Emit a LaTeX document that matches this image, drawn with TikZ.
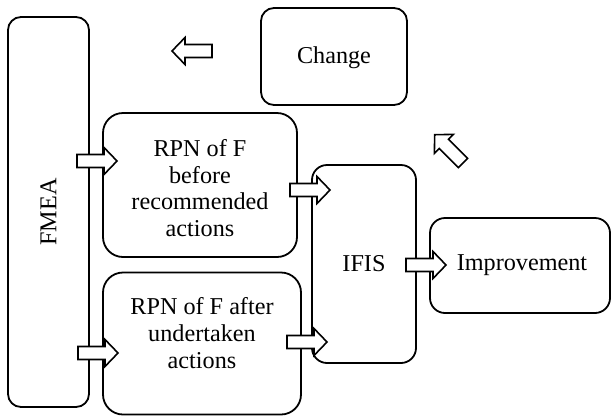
\documentclass[tikz,border=0pt]{standalone}
\usepackage{fontspec}
\setmainfont{Liberation Serif}
\tikzset{
  box/.style={draw, line width=1.8pt, rounded corners=15pt, inner sep=0pt},
  lbl/.style={font=\fontsize{24.2}{26.7}\selectfont, align=center, inner sep=0pt},
  barrowline/.style={draw, fill=white, line width=1.6pt, line join=miter},
  pics/barrow/.style={code={\draw[barrowline] (0,-6.5) -- (27,-6.5) -- (27,-13.5) -- (40,0) -- (27,13.5) -- (27,6.5) -- (0,6.5) -- cycle;}}
}
\begin{document}
\begin{tikzpicture}[x=1pt,y=-1pt]
\useasboundingbox (0,0) rectangle (611,416);
% boxes
\node[box, rounded corners=13pt, minimum width=81pt, minimum height=390pt] (fmea) at (48.5,212) {};
\node[box, rounded corners=20pt, minimum width=194pt, minimum height=144pt] (rpnb) at (200,185) {};
\node[box, rounded corners=20pt, minimum width=198pt, minimum height=142pt] (rpna) at (202,343.5) {};
\node[box, minimum width=104pt, minimum height=198pt] (ifis) at (364,264) {};
\node[box, minimum width=180pt, minimum height=95pt] (impr) at (520,265.5) {};
\node[box, rounded corners=13pt, minimum width=146pt, minimum height=97pt] (chg) at (334,56.5) {};
% labels
\node[lbl, rotate=90] (fmeat) at (fmea.center) {FMEA};
\node[lbl] (rpnbt) at (200,188) {RPN of F\\before\\recommended\\actions};
\node[lbl] (rpnat) at (202,333) {RPN of F after\\undertaken\\actions};
\node[lbl] (ifist) at (ifis.center) {IFIS};
\node[lbl] (imprt) at (522,265) {Improvement};
\node[lbl] (chgt) at (334,58) {Change};
% block arrows
\coordinate (a1) at (77,161);
\coordinate (a2) at (78,353);
\coordinate (a3) at (290,190);
\coordinate (a4) at (287,342);
\coordinate (a5) at (406,265);
\coordinate (a6) at (212,51);
\coordinate (a7) at (463,163);
\pic at (a1) {barrow};
\pic at (a2) {barrow};
\pic at (a3) {barrow};
\pic at (a4) {barrow};
\pic at (a5) {barrow};
\pic[rotate=180] at (a6) {barrow};
\pic[rotate=135] at (a7) {barrow};
\end{tikzpicture}
\end{document}
